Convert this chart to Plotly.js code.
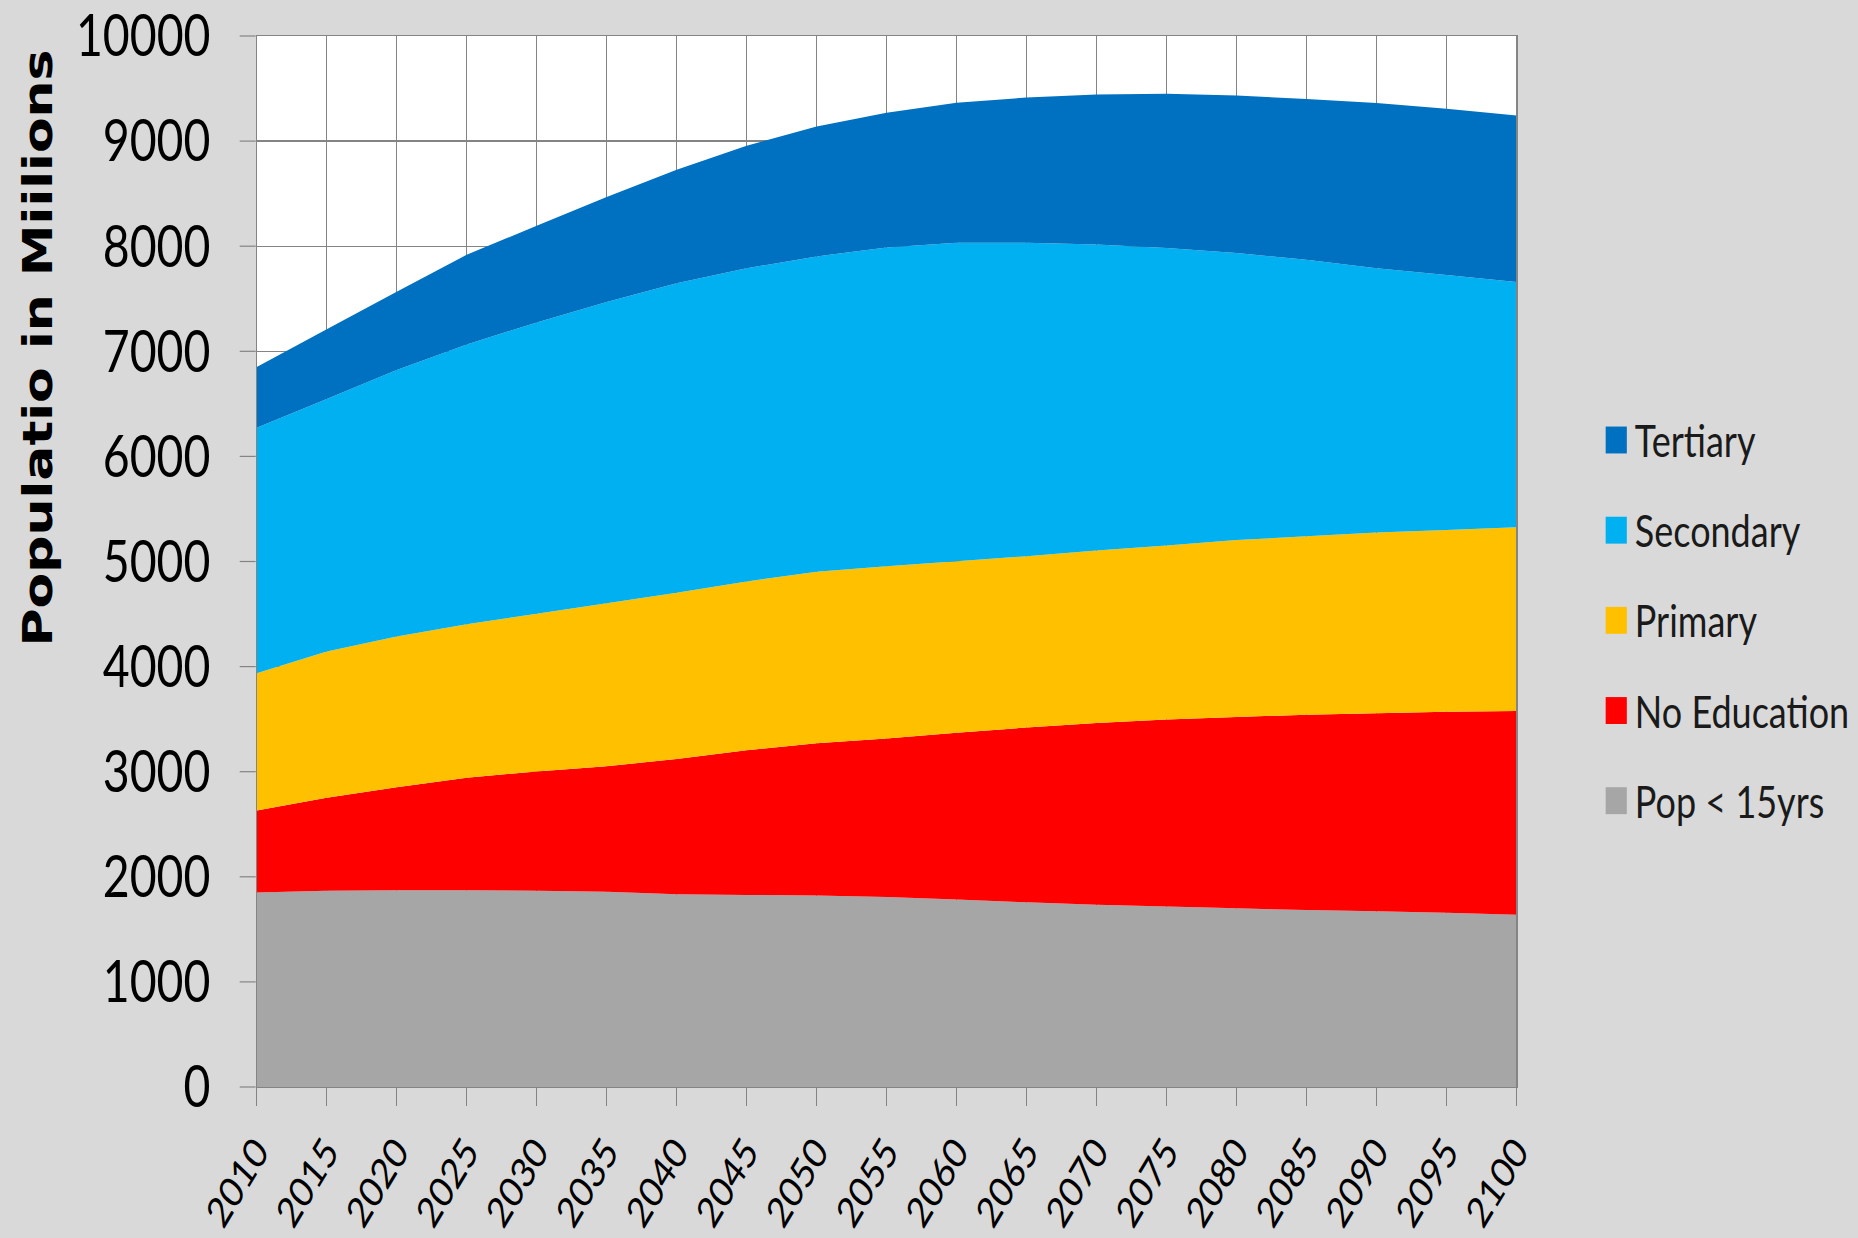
<!DOCTYPE html>
<html>
<head>
<meta charset="utf-8">
<script src="https://cdn.plot.ly/plotly-3.0.1.min.js"></script>
<style>
  html, body { margin: 0; padding: 0; background: #d9d9d9; overflow: hidden; }
  /* the chart is laid out on a wider canvas and narrowed horizontally */
  #chart { width: 2323px; height: 1238px; transform: scale(0.79983, 1); transform-origin: 0 0; }
</style>
</head>
<body>
<div id="chart"></div>
<script>
// World population by education level, millions
const years = [2010, 2015, 2020, 2025, 2030, 2035, 2040, 2045, 2050, 2055,
               2060, 2065, 2070, 2075, 2080, 2085, 2090, 2095, 2100];

const popUnder15  = [1850, 1867, 1873, 1873, 1867, 1857, 1833, 1827, 1823, 1807,
                     1783, 1757, 1733, 1717, 1700, 1683, 1673, 1657, 1640];
const noEducation = [780, 886, 980, 1070, 1136, 1196, 1287, 1376, 1447, 1510,
                     1587, 1663, 1730, 1780, 1820, 1860, 1884, 1913, 1937];
const primary     = [1307, 1390, 1434, 1460, 1500, 1550, 1583, 1607, 1633, 1638,
                     1633, 1630, 1642, 1656, 1684, 1697, 1718, 1730, 1750];
const secondary   = [2335, 2404, 2535, 2662, 2772, 2866, 2944, 2980, 3000, 3032,
                     3029, 2982, 2911, 2831, 2731, 2631, 2515, 2425, 2333];
const tertiary    = [578, 663, 744, 854, 919, 1000, 1081, 1165, 1236, 1282,
                     1334, 1382, 1427, 1466, 1499, 1530, 1573, 1582, 1583];

const seriesNames  = ['Pop < 15yrs', 'No Education', 'Primary', 'Secondary', 'Tertiary'];
const seriesValues = [popUnder15, noEducation, primary, secondary, tertiary];
const seriesColors = ['#a6a6a6', '#ff0000', '#ffc000', '#00b0f0', '#0070c0'];

const yTicks = [0, 1000, 2000, 3000, 4000, 5000, 6000, 7000, 8000, 9000, 10000];
const yTitle = 'Populatio in Miilions';

const gridColor = '#848484';
const textColor = '#000000';

const traces = seriesNames.map((name, i) => ({
  type: 'scatter',
  mode: 'none',
  name: name,
  x: years,
  y: seriesValues[i],
  stackgroup: 'edu',
  fillcolor: seriesColors[i],
  line: { width: 0 },
  hoverinfo: 'x+y+name',
  showlegend: false
}));

// legend: coloured squares with labels, top entry = last series
const shapes = [];
const annotations = [];
const legTop = 0.6156, legStep = 0.0858;
seriesNames.slice().reverse().forEach((name, k) => {
  const color = seriesColors[seriesNames.length - 1 - k];
  const yc = legTop - k * legStep;
  shapes.push({
    type: 'rect', xref: 'paper', yref: 'paper',
    x0: 1.0708, x1: 1.0876, y0: yc - 0.0128, y1: yc + 0.0128,
    fillcolor: color, line: { width: 0 }
  });
  annotations.push({
    xref: 'paper', yref: 'paper', x: 1.0930, y: yc,
    xanchor: 'left', yanchor: 'middle', showarrow: false,
    text: name, font: { family: 'Lato', size: 45, color: '#1a1a1a' }
  });
});

// vertical axis title
annotations.push({
  xref: 'paper', yref: 'paper', x: -0.1737, y: 0.703,
  xanchor: 'center', yanchor: 'middle', showarrow: false, textangle: -90,
  text: '<b>' + yTitle + '</b>', font: { family: 'DejaVu Sans', size: 52, color: textColor }
});

const layout = {
  width: 2323, height: 1238,
  margin: { l: 321, r: 427, t: 36, b: 151, pad: 0 },
  paper_bgcolor: '#d9d9d9',
  plot_bgcolor: '#ffffff',
  showlegend: false,
  font: { family: 'Lato', color: textColor },
  xaxis: {
    range: [2010, 2100], tick0: 2010, dtick: 5, tickmode: 'linear',
    tickangle: -53, tickfont: { family: 'Lato', size: 42, color: textColor },
    ticklabeloverflow: 'allow', ticklabelstandoff: 4,
    showgrid: true, gridcolor: gridColor, gridwidth: 1.4,
    showline: true, linecolor: gridColor, linewidth: 1.3, mirror: true,
    ticks: 'outside', ticklen: 18, tickcolor: gridColor, tickwidth: 1.3,
    zeroline: false, fixedrange: true
  },
  yaxis: {
    range: [0, 10000], tickvals: yTicks, tickformat: 'd',
    tickfont: { family: 'Lato', size: 58, color: textColor },
    ticklabeloverflow: 'allow',
    showgrid: true, gridcolor: gridColor, gridwidth: 1.3,
    showline: true, linecolor: gridColor, linewidth: 1.3, mirror: true,
    ticks: 'outside', ticklen: 20, tickcolor: gridColor, tickwidth: 1.2,
    ticklabelstandoff: 25,
    zeroline: false, fixedrange: true
  },
  shapes: shapes,
  annotations: annotations
};

Plotly.newPlot('chart', traces, layout, { displayModeBar: false, staticPlot: true });
</script>
</body>
</html>
